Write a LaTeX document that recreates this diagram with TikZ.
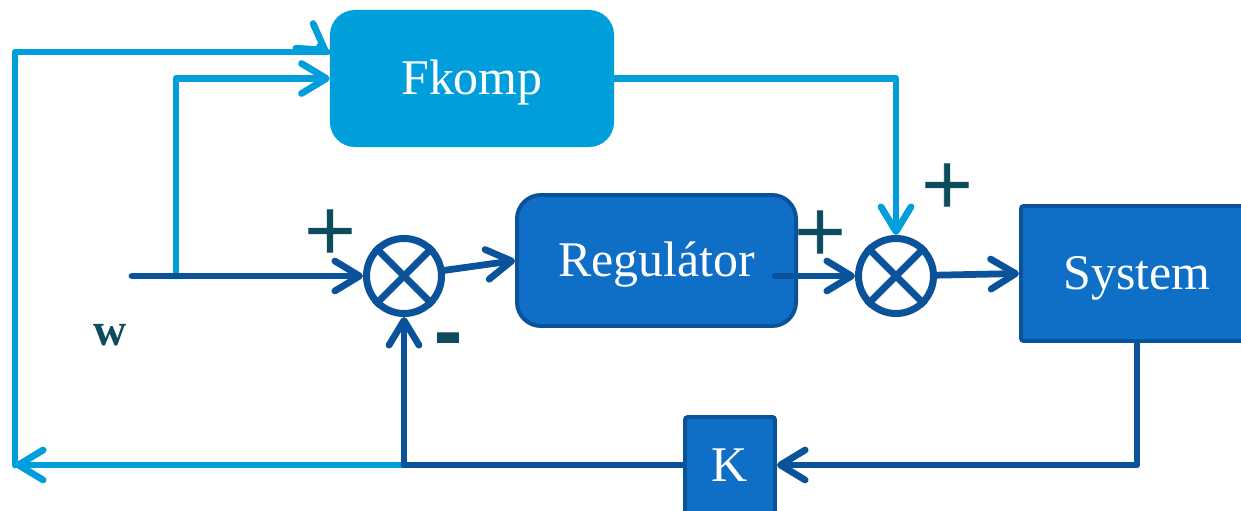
\documentclass[tikz,border=0pt]{standalone}
\usepackage{fontspec}
\setmainfont{Liberation Serif}
\newfontfamily\signfont[FakeBold=1.2]{DejaVu Sans}
\usetikzlibrary{arrows.meta,calc}
\definecolor{lb}{RGB}{0,158,218}
\definecolor{mb}{RGB}{15,111,198}
\definecolor{db}{RGB}{10,82,153}
\definecolor{tl}{RGB}{12,76,92}
\begin{document}
\begin{tikzpicture}[x=0.025cm,y=-0.025cm,
  lbline/.style={draw=lb,line width=4.8pt,line cap=round,line join=round},
  dbline/.style={draw=db,line width=4.8pt,line cap=round,line join=round},
  tipa/.style={-{Straight Barb[length=0.62cm,width=0.75cm,round]}},
  block/.style={font=\fontsize{35.5}{40}\selectfont, text=white, text height=23.4pt, text depth=0pt, inner sep=0pt},
  sumj/.style={circle, draw=db, line width=5pt, minimum size=1.875cm, inner sep=0pt},
  sign/.style={text=tl, font=\signfont\fontsize{48}{50}\selectfont, inner sep=0pt}
]
\useasboundingbox[fill=white] (0,0) rectangle (1241,511);

% blocks
\node[block, fill=lb, rounded corners=0.625cm, minimum width=7.1cm, minimum height=3.425cm] (F) at (472,78.5) {Fkomp};
\node[block, fill=mb, draw=db, line width=2.8pt, rounded corners=0.6cm, minimum width=6.975cm, minimum height=3.275cm] (R) at (656.5,260.5) {Regulátor};
\node[block, fill=mb, draw=db, line width=2.8pt, rounded corners=2pt, minimum width=5.8cm, minimum height=3.375cm] (S) at (1137,273.5) {System};
\node[block, fill=mb, draw=db, line width=2.8pt, rounded corners=2pt, minimum width=2.25cm, minimum height=2.4cm] (K) at (730,465) {K};

% summing junctions
\node[sumj] (J1) at (404,276) {};
\draw[db, line width=5pt] (J1.north west) -- (J1.south east) (J1.north east) -- (J1.south west);
\node[sumj] (J2) at (896,276) {};
\draw[db, line width=5pt] (J2.north west) -- (J2.south east) (J2.north east) -- (J2.south west);

% coordinates
\coordinate (win) at (132,276);
\coordinate (wsplit) at (176,276);
\coordinate (fb) at (404,465);
\coordinate (corner) at (15,465);
\coordinate (ftop) at ($(F.west)+(-2,-26.5)$);
\coordinate (rq) at (775,276);

% light blue connectors
\draw[lbline, tipa] (wsplit) |- (F.west);
\draw[lbline, tipa] (fb) -- (corner);
\draw[lbline] (corner) |- (ftop);
\draw[lbline, tipa] ($(ftop)+(-8.2,-5.7)$) -- (ftop);
\draw[lbline, tipa] (F.east) -| (J2.north);

% dark blue connectors
\draw[dbline, tipa] (win) -- (J1.west);
\draw[dbline, tipa] (J1) -- (R.west);
\draw[dbline, tipa] (rq) -- (J2.west);
\draw[dbline, tipa] (J2) -- (S.west);
\draw[dbline, tipa] (S.south) |- (K.east);
\draw[dbline, tipa] (K.west) -- (fb) -- (J1.south);

% signs and label
\node[sign] (p1) at (330,231) {+};
\node[sign] (m1) at (448,345) {\bfseries -};
\node[sign] (p2) at (820,232) {+};
\node[sign] (p3) at (947,185) {+};
\node[text=tl, font=\bfseries\fontsize{32.7}{36}\selectfont, anchor=base, inner sep=0pt] (w) at (110,345) {w};
\end{tikzpicture}
\end{document}
